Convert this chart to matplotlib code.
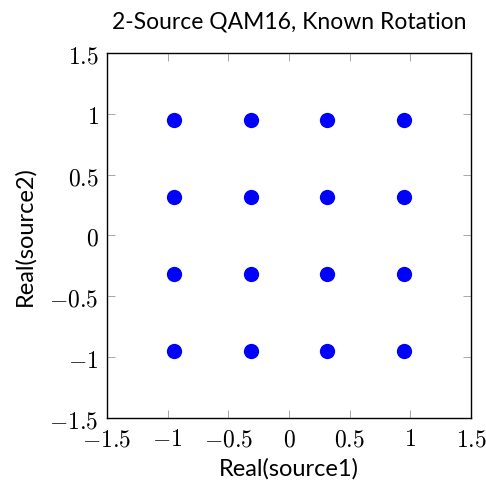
import matplotlib
matplotlib.use("Agg")
import matplotlib.pyplot as plt
from matplotlib.ticker import FuncFormatter

plt.rcParams['mathtext.fontset'] = 'cm'

# decoded symbols for source1 / source2 (QAM16 grid, unit power)
levels = [-0.949, -0.316, 0.316, 0.949]
src1 = [x for x in levels for _ in levels]
src2 = [y for _ in levels for y in levels]

ticks = [-1.5, -1, -0.5, 0, 0.5, 1, 1.5]


def tex_fmt(v, pos):
    return '$%g$' % v


fig = plt.figure(figsize=(4.86, 4.89), dpi=100)
ax = fig.add_axes([0.220, 0.143, 0.749, 0.747])
ax.plot(src1, src2, 'o', color='#0000ff', markersize=11, markeredgewidth=0)

ax.set_xlim(-1.5, 1.5)
ax.set_ylim(-1.5, 1.5)
ax.set_xticks(ticks)
ax.set_yticks(ticks)
ax.xaxis.set_major_formatter(FuncFormatter(tex_fmt))
ax.yaxis.set_major_formatter(FuncFormatter(tex_fmt))
ax.tick_params(direction='in', top=True, right=True, length=6, width=0.6,
               color='#999999', labelsize=17)
ax.tick_params(axis='x', pad=6)
ax.tick_params(axis='y', pad=6)
for sp in ax.spines.values():
    sp.set_linewidth(1.0)

ax.set_title('2-Source QAM16, Known Rotation', fontsize=16.5, family='Lato', pad=18)
ax.set_xlabel('Real(source1)', fontsize=17, family='Lato', labelpad=5)
ax.set_ylabel('Real(source2)', fontsize=17, family='Lato', labelpad=10)

fig.savefig('out.png', dpi=100)
